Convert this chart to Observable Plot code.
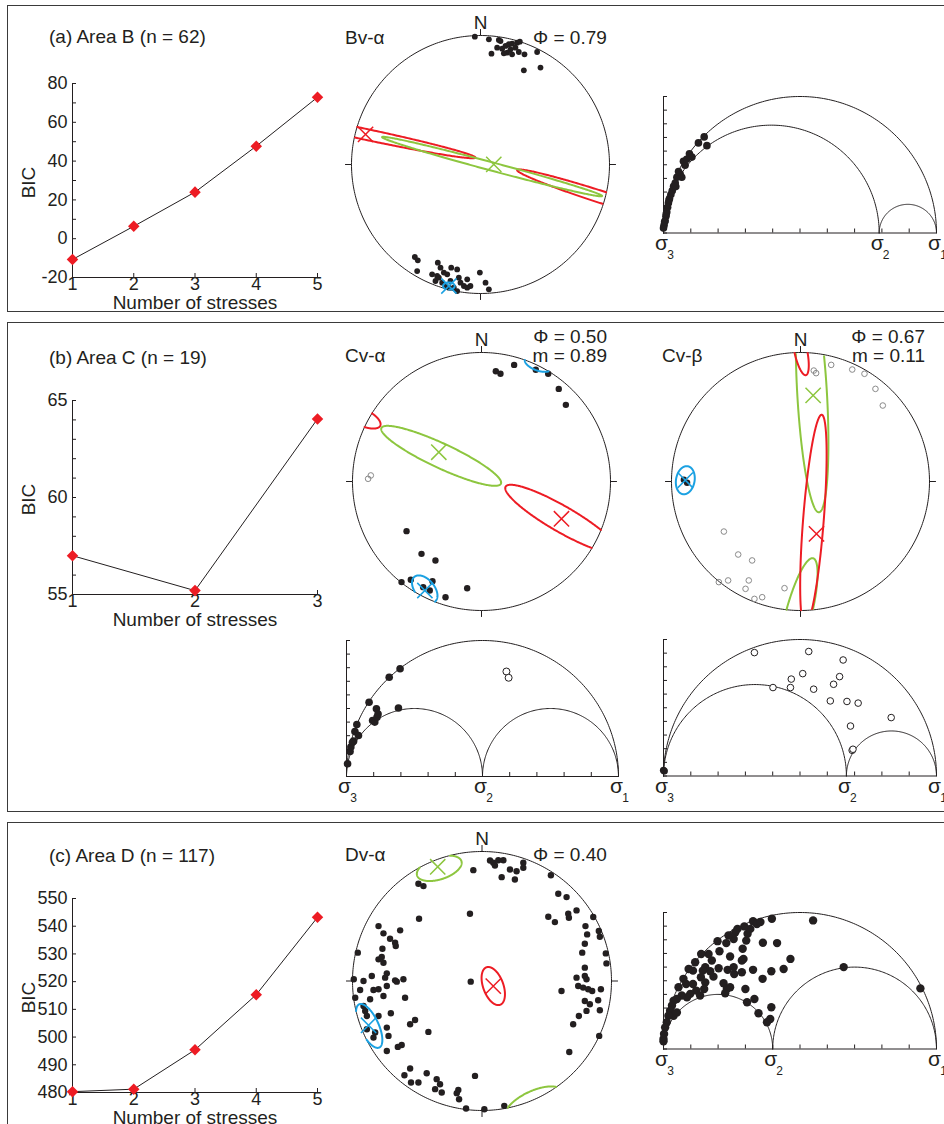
<!DOCTYPE html>
<html><head><meta charset="utf-8">
<script src="https://cdn.jsdelivr.net/npm/d3@7"></script>
<script src="https://cdn.jsdelivr.net/npm/@observablehq/plot@0.6"></script>
<style>
body{margin:0;background:#fff;}
#root{position:relative;width:944px;height:1124px;overflow:hidden;font-family:"Liberation Sans",Arial,Helvetica,sans-serif;color:#231f20;background:#fff;}
.box{position:absolute;border:1.5px solid #3a3a3a;box-sizing:border-box;}
.lbl{position:absolute;font-size:19px;line-height:22px;white-space:nowrap;}
</style></head><body><div id="root"></div>
<script>
// ---------------- DATA ----------------
const nStress5 = [1, 2, 3, 4, 5];
const nStress3 = [1, 2, 3];
const bicA = [-10.7, 6.4, 24.0, 47.7, 72.9];
const bicB = [57.0, 55.2, 64.05];
const bicC = [480.3, 481.2, 495.4, 515.3, 543.2];
const bicATicks = [-20, -10, 0, 10, 20, 30, 40, 50, 60, 70, 80];
const bicBTicks = [55, 56, 57, 58, 59, 60, 61, 62, 63, 64, 65];
const bicCTicks = [480, 490, 500, 510, 520, 530, 540, 550];

const phiA = 0.79, phiCa = 0.50, phiCb = 0.67, phiD = 0.40;
const mCa = 0.89, mCb = 0.11;

// Stereonet Bv-α (unit disc, x east, y north)
const bvPoints = [
  [-0.044,0.991],[0.065,0.970],[0.142,0.965],[0.155,0.957],[0.194,0.919],[0.220,0.932],[0.245,0.937],
  [0.284,0.944],[0.305,0.952],[0.271,0.906],[0.233,0.893],[0.207,0.867],[0.181,0.862],[0.245,0.854],
  [0.297,0.872],[0.341,0.854],[0.439,0.872],[0.085,0.859],[0.336,0.730],[0.465,0.751],[0.129,0.906],[0.168,0.898],
  [-0.509,-0.717],[-0.486,-0.743],[-0.491,-0.826],[-0.331,-0.761],[-0.375,-0.851],[-0.336,-0.864],
  [-0.310,-0.800],[-0.258,-0.851],[-0.227,-0.800],[-0.181,-0.813],[-0.168,-0.877],[-0.155,-0.916],
  [-0.103,-0.890],[-0.078,-0.942],[-0.005,-0.838],[0.039,-0.916],[0.065,-0.968],[-0.349,-0.903],
  [-0.297,-0.916],[-0.207,-0.955],[-0.129,-0.942],[-0.181,-0.981],[-0.271,-0.942],[-0.323,-0.877],
  [-0.284,-0.838],[-0.233,-0.903],[-0.245,-0.955],[-0.103,-0.955]
];
const bvEllipses = [
  {axis:"σ1", cx:-0.89, cy:0.234, a:0.87, b:0.042, angle:-12},
  {axis:"σ1", cx:0.96, cy:-0.26, a:0.71, b:0.047, angle:-17.8},
  {axis:"σ2", cx:0.09, cy:-0.016, a:0.883, b:0.032, angle:-15},
  {axis:"σ3", cx:-0.245, cy:-0.942, a:0.045, b:0.028, angle:0}
];
const bvCrosses = [
  {axis:"σ1", x:-0.891, y:0.234}, {axis:"σ2", x:0.103, y:0.001}, {axis:"σ3", x:-0.245, y:-0.942}
];

// Stereonet Cv-α
const cvaFilled = [
  [0.111,0.855],[0.147,0.835],[0.253,0.904],[0.421,0.866],[0.517,0.835],[0.599,0.718],[0.654,0.594],
  [-0.581,-0.385],[-0.465,-0.561],[-0.357,-0.612],[-0.620,-0.780],[-0.548,-0.762],[-0.380,-0.773],
  [-0.279,-0.897],[-0.111,-0.827],[-0.452,-0.819],[-0.401,-0.845]
];
const cvaOpen = [[-0.879,0.021],[-0.858,0.047]];
const cvaEllipses = [
  {axis:"σ1", cx:0.62, cy:-0.29, a:0.5, b:0.1, angle:-30},
  {axis:"σ1", cx:-0.93, cy:0.5, a:0.16, b:0.065, angle:-25},
  {axis:"σ2", cx:-0.3125, cy:0.199, a:0.511, b:0.095, angle:-25},
  {axis:"σ3", cx:-0.44, cy:-0.835, a:0.125, b:0.075, angle:-50},
  {axis:"σ3", cx:0.44, cy:0.91, a:0.11, b:0.05, angle:-20}
];
const cvaCrosses = [
  {axis:"σ1", x:0.620, y:-0.289}, {axis:"σ2", x:-0.331, y:0.227}, {axis:"σ3", x:-0.439, y:-0.845}
];

// Stereonet Cv-β
const cvbOpen = [
  [0.103,0.860],[0.121,0.840],[0.238,0.904],[0.401,0.868],[0.496,0.835],[0.581,0.718],[0.638,0.589],
  [-0.594,-0.388],[-0.483,-0.566],[-0.375,-0.612],[-0.633,-0.780],[-0.561,-0.767],[-0.401,-0.767],
  [-0.426,-0.832],[-0.357,-0.910],[-0.297,-0.897],[-0.124,-0.827]
];
const cvbFilled = [[-0.904,0.013],[-0.879,-0.010]];
const cvbEllipses = [
  {axis:"σ2", cx:0.09, cy:0.68, a:0.92, b:0.115, angle:-86.7},
  {axis:"σ2", cx:-0.02, cy:-1.05, a:0.47, b:0.1, angle:75.5},
  {axis:"σ1", cx:0.10, cy:-0.30, a:0.82, b:0.08, angle:85.5},
  {axis:"σ1", cx:0.0, cy:1.02, a:0.2, b:0.05, angle:-78},
  {axis:"σ3", cx:-0.893, cy:0.01, a:0.11, b:0.072, angle:80}
];
const cvbCrosses = [
  {axis:"σ2", x:0.098, y:0.667}, {axis:"σ1", x:0.124, y:-0.406}, {axis:"σ3", x:-0.893, y:0.01}
];

// Stereonet Dv-α
const dvPoints = [
  [-0.067,0.856],[0.062,0.931],[0.087,0.913],[0.100,0.892],[0.126,0.933],[0.165,0.933],[0.216,0.861],
  [0.152,0.802],[0.267,0.848],[0.319,0.913],[0.319,0.874],[0.254,0.784],[0.532,0.817],[-0.491,0.751],
  [-0.452,0.733],[-0.093,0.519],[-0.486,0.481],[0.589,0.674],[0.653,0.648],[0.730,0.545],[0.666,0.519],
  [0.671,0.488],[0.512,0.496],[0.563,0.455],[0.859,0.494],
  [-0.799,0.424],[-0.761,0.368],[-0.632,0.391],[-0.710,0.326],[-0.671,0.296],[-0.666,0.270],[-0.959,0.219],
  [-0.769,0.249],[-0.799,0.167],[-0.774,0.185],[-0.761,0.141],[-0.735,0.059],[-0.748,0.026],[-0.851,0.039],
  [-0.990,0.013],[-0.915,0.000],[-0.658,-0.005],[-0.607,0.013],[-0.735,-0.039],[-0.671,0.005],[-0.799,-0.064],
  [-0.838,-0.069],[-0.941,-0.069],[-0.979,-0.129],[-0.761,-0.116],[-0.594,-0.129],[-0.864,-0.141],
  [-0.889,-0.270],[-0.799,-0.270],[-0.704,-0.249],[-0.517,-0.301],[-0.555,-0.334],[-0.735,-0.360],
  [-0.414,-0.393],[-0.722,-0.424],[-0.838,-0.437],[-0.825,-0.398],[-0.620,-0.494],[-0.650,-0.509],
  [-0.735,-0.540],[-0.902,-0.231],[-0.889,-0.373],[-0.915,-0.193],
  [-0.555,-0.676],[-0.599,-0.728],[-0.548,-0.784],[-0.491,-0.784],[-0.427,-0.712],[-0.350,-0.758],
  [-0.324,-0.797],[-0.362,-0.835],[-0.311,-0.861],[-0.183,-0.841],[-0.195,-0.866],[-0.177,-0.913],
  [-0.054,-0.733],[-0.123,-0.985],[0.018,-0.990],[0.172,-0.964],
  [0.799,0.424],[0.812,0.360],[0.902,0.386],[0.910,0.342],[0.794,0.288],[0.956,0.213],[0.774,0.219],
  [0.961,0.136],[0.794,0.103],[0.730,0.026],[0.794,0.039],[0.807,0.013],[0.743,-0.039],[0.781,-0.051],
  [0.820,-0.064],[0.614,-0.077],[0.851,-0.077],[0.918,-0.064],[0.794,-0.154],[0.897,-0.149],[0.833,-0.180],
  [0.807,-0.231],[0.910,-0.226],[0.748,-0.270],[0.704,-0.334],[0.905,-0.424],[0.674,-0.548],[-0.087,-0.005]
];
const dvEllipses = [
  {axis:"σ1", cx:0.087, cy:-0.039, a:0.154, b:0.078, angle:110},
  {axis:"σ2", cx:-0.33, cy:0.87, a:0.18, b:0.085, angle:18},
  {axis:"σ2", cx:0.40, cy:-0.95, a:0.24, b:0.1, angle:25},
  {axis:"σ3", cx:-0.871, cy:-0.347, a:0.184, b:0.072, angle:115}
];
const dvCrosses = [
  {axis:"σ1", x:0.087, y:-0.039}, {axis:"σ2", x:-0.342, y:0.882}, {axis:"σ3", x:-0.876, y:-0.342}
];

// Mohr diagrams (normal stress normalised σ3=0 .. σ1=1, shear stress)
const mohrA = [
  [0.149,0.352],[0.128,0.330],[0.159,0.320],[0.095,0.290],[0.104,0.278],[0.073,0.263],[0.079,0.248],
  [0.061,0.216],[0.067,0.204],[0.049,0.204],[0.043,0.183],[0.037,0.171],[0.032,0.155],[0.027,0.141],
  [0.022,0.126],[0.018,0.110],[0.015,0.094],[0.012,0.077],[0.009,0.061],[0.006,0.045],[0.002,0.028],
  [0.000,0.018],[0.055,0.225],[0.085,0.270],[0.045,0.170],[0.020,0.120],[0.010,0.070],[0.004,0.040]
];
const mohrCaFilled = [
  [0.004,0.047],[0.013,0.092],[0.016,0.108],[0.022,0.126],[0.026,0.130],[0.031,0.165],[0.038,0.191],
  [0.044,0.151],[0.083,0.273],[0.096,0.206],[0.104,0.200],[0.112,0.218],[0.110,0.249],[0.116,0.230],
  [0.157,0.365],[0.197,0.396],[0.191,0.252]
];
const mohrCaOpen = [[0.588,0.386],[0.596,0.363]];
const mohrCbOpen = [
  [0.333,0.452],[0.532,0.456],[0.658,0.425],[0.510,0.375],[0.468,0.355],[0.465,0.324],[0.401,0.324],
  [0.550,0.318],[0.623,0.336],[0.645,0.364],[0.611,0.275],[0.672,0.273],[0.713,0.267],[0.834,0.214],
  [0.685,0.183],[0.691,0.094],[0.694,0.098]
];
const mohrCbFilled = [[0.000,0.021],[0.003,0.018]];
const mohrD = [
  [0.548,0.471],[0.660,0.300],[0.941,0.222],[0.397,0.477],[0.364,0.389],[0.416,0.388],[0.465,0.330],
  [0.440,0.293],[0.395,0.285],[0.363,0.257],[0.395,0.153],[0.391,0.110],[0.379,0.098],[0.348,0.131],
  [0.333,0.183],[0.306,0.171],[0.300,0.220],[0.328,0.290],[0.293,0.330],[0.290,0.367],[0.303,0.397],
  [0.308,0.422],[0.328,0.468],[0.342,0.458],[0.355,0.465],[0.318,0.440],[0.296,0.449],[0.271,0.440],
  [0.263,0.428],[0.257,0.403],[0.238,0.416],[0.230,0.388],[0.205,0.358],[0.198,0.395],[0.244,0.339],
  [0.235,0.290],[0.220,0.241],[0.232,0.220],[0.226,0.204],[0.244,0.226],[0.259,0.275],[0.257,0.300],
  [0.202,0.296],[0.183,0.265],[0.171,0.285],[0.177,0.324],[0.165,0.348],[0.138,0.348],[0.153,0.300],
  [0.144,0.287],[0.137,0.263],[0.153,0.244],[0.149,0.220],[0.116,0.318],[0.108,0.287],[0.092,0.293],
  [0.073,0.257],[0.083,0.238],[0.108,0.238],[0.120,0.214],[0.134,0.196],[0.098,0.202],[0.086,0.189],
  [0.067,0.196],[0.055,0.226],[0.049,0.183],[0.037,0.177],[0.031,0.159],[0.024,0.140],[0.037,0.122],
  [0.049,0.134],[0.018,0.122],[0.012,0.098],[0.006,0.079],[0.002,0.055],[0.000,0.037],[0.000,0.028],
  [0.287,0.324],[0.287,0.281]
];

// ---------------- RENDER ----------------
const RED = "#ed1c24", GREEN = "#8dc63f", BLUE = "#1ba1e2", INK = "#231f20";
const FONT = "'Liberation Sans', Arial, Helvetica, sans-serif";
const STYLE = `background:transparent;overflow:visible;max-width:none;font-family:${FONT};font-size:18px;color:${INK};`;
const root = document.getElementById("root");
const rad = Math.PI / 180;

function place(node, left, top) {
  node.style.position = "absolute";
  node.style.left = left + "px";
  node.style.top = top + "px";
  root.appendChild(node);
}
function label(txt, x, yc, align) {
  const d = document.createElement("div");
  d.className = "lbl";
  d.textContent = txt;
  d.style.left = x + "px";
  d.style.top = (yc - 11) + "px";
  if (align === "right") d.style.transform = "translateX(-100%)";
  root.appendChild(d);
}
function box(top, bottom) {
  const d = document.createElement("div");
  d.className = "box";
  d.style.left = "7px"; d.style.top = top + "px";
  d.style.width = "960px"; d.style.height = (bottom - top) + "px";
  root.appendChild(d);
}

function bicChart({xs, ys, xTicks, yTicks, yFmt, yDomain, left, right, top, bottom}) {
  const mL = 72, mR = 20, mT = 15, mB = 40;
  const data = xs.map((n, i) => ({n, bic: ys[i]}));
  const svg = Plot.plot({
    width: (right - left) + mL + mR, height: (bottom - top) + mT + mB,
    marginLeft: mL, marginRight: mR, marginTop: mT, marginBottom: mB,
    x: {domain: [xs[0], xs[xs.length - 1]], label: null},
    y: {domain: yDomain, label: null},
    style: STYLE,
    marks: [
      Plot.ruleX([xs[0]], {stroke: INK}),
      Plot.ruleY([yDomain[0]], {stroke: INK}),
      Plot.axisY(yTicks, {tickSize: -4, tickPadding: 9, tickFormat: yFmt, fontSize: 18, label: null}),
      Plot.axisX(xTicks, {tickSize: -4, tickPadding: 4, tickFormat: d => String(d), fontSize: 18, label: null}),
      Plot.line(data, {x: "n", y: "bic", stroke: INK, strokeWidth: 1}),
      Plot.dot(data, {x: "n", y: "bic", symbol: "diamond2", r: 5.2, fill: RED}),
      Plot.text(["BIC"], {text: d => d, frameAnchor: "left", textAnchor: "middle", lineAnchor: "middle",
        rotate: -90, dx: -44, dy: 2, fontSize: 19}),
      Plot.text(["Number of stresses"], {text: d => d, frameAnchor: "bottom", lineAnchor: "middle", dy: 25.5, fontSize: 19})
    ]
  });
  place(svg, left - mL, top - mT);
}

function outline(list) {
  const pts = [];
  list.forEach((e, i) => {
    const th = e.angle * rad;
    for (let k = 0; k <= 360; k++) {
      const t = k * rad;
      const x = e.cx + e.a * Math.cos(t) * Math.cos(th) - e.b * Math.sin(t) * Math.sin(th);
      const y = e.cy + e.a * Math.cos(t) * Math.sin(th) + e.b * Math.sin(t) * Math.cos(th);
      const ok = x * x + y * y <= 1;
      pts.push({id: i, axis: e.axis, x: ok ? x : NaN, y: ok ? y : NaN});
    }
  });
  return pts;
}
const unitCircle = d3.range(0, 361).map(k => ({x: Math.cos(k * rad), y: Math.sin(k * rad)}));
const compass = [0, 90, 180, 270];

function stereonet({cx, cy, r, filled = [], open = [], ellipses, crosses, dotR}) {
  const m = 30;
  const svg = Plot.plot({
    width: 2 * r + 2 * m, height: 2 * r + 2 * m, margin: m,
    x: {domain: [-1, 1], axis: null}, y: {domain: [-1, 1], axis: null},
    color: {domain: ["σ1", "σ2", "σ3"], range: [RED, GREEN, BLUE]},
    style: STYLE,
    marks: [
      Plot.line(unitCircle, {x: "x", y: "y", stroke: INK, strokeWidth: 1}),
      Plot.link(compass, {x1: d => Math.sin(d * rad), y1: d => Math.cos(d * rad),
        x2: d => 1.05 * Math.sin(d * rad), y2: d => 1.05 * Math.cos(d * rad), stroke: INK, strokeWidth: 1}),
      Plot.text(["N"], {x: () => 0, y: () => 1, text: d => d, dy: -13, fontSize: 19}),
      Plot.dot(open, {x: d => d[0], y: d => d[1], r: dotR - 0.4, stroke: "#8a8a8a", strokeWidth: 1, fill: "none"}),
      Plot.dot(filled, {x: d => d[0], y: d => d[1], r: dotR, fill: INK}),
      Plot.line(outline(ellipses), {x: "x", y: "y", z: "id", stroke: "axis", strokeWidth: 2}),
      Plot.dot(crosses, {x: "x", y: "y", symbol: "times", stroke: "axis", r: 7, strokeWidth: 1.5})
    ]
  });
  place(svg, cx - r - m, cy - r - m);
}

function mohrChart({x0, x1, base, phi, filled = [], open = [], dotR}) {
  const mL = 25, mR = 20, mT = 12, mB = 40;
  const w = x1 - x0, h = w / 2;
  const circles = [[0, 1], [0, phi], [phi, 1]].flatMap(([a, b], id) => {
    const c = (a + b) / 2, rr = (b - a) / 2;
    return d3.range(0, 181).map(k => ({id, x: c + rr * Math.cos(k * rad), y: rr * Math.sin(k * rad)}));
  });
  const sig = [{v: 0, s: "3"}, {v: phi, s: "2"}, {v: 1, s: "1"}];
  const svg = Plot.plot({
    width: w + mL + mR, height: h + mT + mB,
    marginLeft: mL, marginRight: mR, marginTop: mT, marginBottom: mB,
    x: {domain: [0, 1], label: null}, y: {domain: [0, 0.5], label: null},
    style: STYLE,
    marks: [
      Plot.line(circles, {x: "x", y: "y", z: "id", stroke: INK, strokeWidth: 1}),
      Plot.ruleY([0], {stroke: INK}),
      Plot.ruleX([0], {stroke: INK}),
      Plot.axisX(d3.range(0, 1.0001, 0.1), {tickSize: -4, tickFormat: () => "", label: null}),
      Plot.axisY(d3.range(0, 0.5001, 0.05), {tickSize: -4, tickFormat: () => "", label: null}),
      Plot.dot(open, {x: d => d[0], y: d => d[1], r: dotR - 0.3, stroke: INK, strokeWidth: 1, fill: "white"}),
      Plot.dot(filled, {x: d => d[0], y: d => d[1], r: dotR, fill: INK}),
      Plot.text(sig, {x: "v", y: () => 0, text: () => "σ", dx: -2, dy: 10, fontSize: 21}),
      Plot.text(sig, {x: "v", y: () => 0, text: "s", dx: 7, dy: 22, fontSize: 12})
    ]
  });
  place(svg, x0 - mL, base - h - mT);
}

// Panel boxes
box(5, 312); box(322, 812); box(822, 1140);

// (a)
label("(a) Area B (n = 62)", 49, 37);
bicChart({xs: nStress5, ys: bicA, xTicks: nStress5, yTicks: bicATicks,
  yFmt: d => (d % 20 === 0 ? String(d) : ""), yDomain: [-20, 80], left: 72, right: 317, top: 83, bottom: 277});
label("Bv-α", 345, 38);
label(`Φ = ${phiA.toFixed(2)}`, 533, 38);
stereonet({cx: 480, cy: 163.5, r: 129, filled: bvPoints, ellipses: bvEllipses, crosses: bvCrosses, dotR: 2.9});
mohrChart({x0: 663, x1: 936, base: 232, phi: phiA, filled: mohrA, dotR: 3.8});

// (b)
label("(b) Area C (n = 19)", 49, 358);
bicChart({xs: nStress3, ys: bicB, xTicks: nStress3, yTicks: bicBTicks,
  yFmt: d => (d % 5 === 0 ? String(d) : ""), yDomain: [55, 65], left: 72, right: 317, top: 400, bottom: 594});
label("Cv-α", 345, 356);
label(`Φ = ${phiCa.toFixed(2)}`, 607, 337, "right");
label(`m = ${mCa.toFixed(2)}`, 607, 356, "right");
stereonet({cx: 480.5, cy: 481, r: 129, filled: cvaFilled, open: cvaOpen, ellipses: cvaEllipses, crosses: cvaCrosses, dotR: 3.2});
label("Cv-β", 662, 356);
label(`Φ = ${phiCb.toFixed(2)}`, 925, 337, "right");
label(`m = ${mCb.toFixed(2)}`, 925, 356, "right");
stereonet({cx: 799.5, cy: 481, r: 129, filled: cvbFilled, open: cvbOpen, ellipses: cvbEllipses, crosses: cvbCrosses, dotR: 3.2});
mohrChart({x0: 345.7, x1: 617.7, base: 776, phi: phiCa, filled: mohrCaFilled, open: mohrCaOpen, dotR: 3.8});
mohrChart({x0: 663, x1: 936, base: 775, phi: phiCb, filled: mohrCbFilled, open: mohrCbOpen, dotR: 3.6});

// (c)
label("(c) Area D (n = 117)", 49, 856);
bicChart({xs: nStress5, ys: bicC, xTicks: nStress5, yTicks: bicCTicks,
  yFmt: d => String(d), yDomain: [480, 550], left: 72, right: 317, top: 898, bottom: 1092});
label("Dv-α", 345, 855);
label(`Φ = ${phiD.toFixed(2)}`, 533, 855);
stereonet({cx: 481, cy: 980, r: 129.5, filled: dvPoints, ellipses: dvEllipses, crosses: dvCrosses, dotR: 3.2});
mohrChart({x0: 663, x1: 936, base: 1048, phi: phiD, filled: mohrD, dotR: 4.2});
</script></body></html>
